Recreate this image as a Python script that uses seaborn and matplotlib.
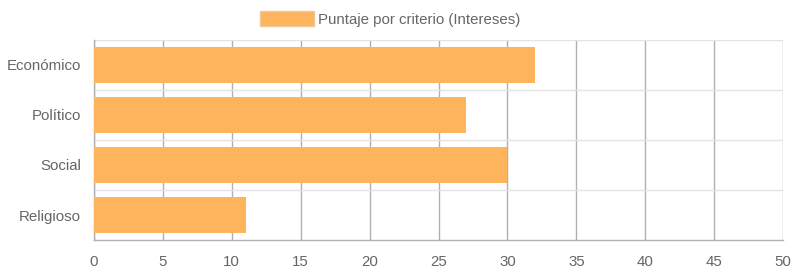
import matplotlib
matplotlib.use("Agg")
import matplotlib.pyplot as plt
import matplotlib.patches as mpatches
import seaborn as sns
import pandas as pd

categories = ["Económico", "Político", "Social", "Religioso"]
values = [32, 27, 30, 11]
series_name = "Puntaje por criterio (Intereses)"
x_ticks = [0, 5, 10, 15, 20, 25, 30, 35, 40, 45, 50]

sns.set_theme(style="white")
plt.rcParams["font.family"] = ["Liberation Sans", "DejaVu Sans"]

bar_color = "#fdb45c"
grid_dark = "#b0b0b0"
grid_light = "#e3e3e3"
text_color = "#666666"

df = pd.DataFrame({"cat": categories, "val": values})

fig = plt.figure(figsize=(7.95, 2.75), dpi=100)
ax = fig.add_axes([94 / 795, 1 - 240 / 275, (783 - 94) / 795, 200 / 275])

sns.barplot(data=df, y="cat", x="val", orient="h", color=bar_color,
            saturation=1, width=0.72, ax=ax, zorder=3, linewidth=0)

ax.set_xlim(0, 50)
ax.set_ylim(3.5, -0.5)
ax.set_xticks(x_ticks)
ax.set_xlabel("")
ax.set_ylabel("")

# vertical grid lines
for t in x_ticks:
    ax.axvline(t, color=grid_dark, lw=1, zorder=1)
# horizontal separators
for b in [-0.5, 0.5, 1.5, 2.5]:
    ax.axhline(b, color=grid_light, lw=1, zorder=1)

ax.set_yticks([-0.5, 0.5, 1.5, 2.5, 3.5], minor=True)
ax.tick_params(axis="y", which="minor", length=14, color=grid_light, width=1)
ax.tick_params(axis="y", which="major", length=0, pad=9.5, labelsize=10.8, labelcolor=text_color)
ax.tick_params(axis="x", which="major", length=8, color=grid_dark, width=1,
               pad=2.5, labelsize=10.8, labelcolor=text_color)

for s in ["top", "right"]:
    ax.spines[s].set_visible(False)
ax.spines["left"].set_color(grid_dark)
ax.spines["bottom"].set_color(grid_dark)
ax.spines["left"].set_linewidth(1)
ax.spines["bottom"].set_linewidth(1)

handle = mpatches.Patch(facecolor=bar_color, edgecolor="#f0c89a", linewidth=1)
fig.legend([handle], [series_name], loc="center", bbox_to_anchor=(0.491, 1 - 19 / 275),
           frameon=False, fontsize=10.8, handlelength=3.6, handleheight=1.15,
           handletextpad=0.3, labelcolor=text_color)

fig.savefig("out.png", dpi=100)
